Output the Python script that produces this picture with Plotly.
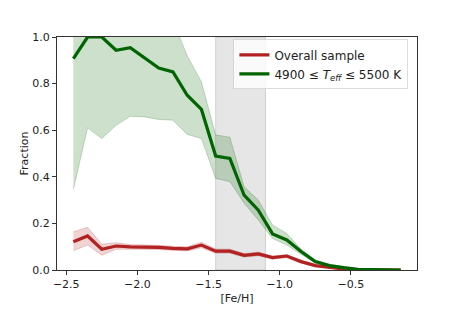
import plotly.graph_objects as go

feh = [-2.45, -2.35, -2.25, -2.15, -2.05, -1.95, -1.85, -1.75, -1.65, -1.55, -1.45, -1.35,
       -1.25, -1.15, -1.05, -0.95, -0.85, -0.75, -0.65, -0.55, -0.45, -0.35, -0.25, -0.15]

overall = [0.121, 0.146, 0.089, 0.103, 0.099, 0.099, 0.097, 0.093, 0.091, 0.107, 0.081, 0.081,
           0.063, 0.069, 0.053, 0.060, 0.036, 0.019, 0.010, 0.004, 0.002, 0.001, 0.000, 0.000]
overall_lo = [0.083, 0.107, 0.063, 0.089, 0.089, 0.090, 0.088, 0.084, 0.082, 0.095, 0.072, 0.072,
              0.055, 0.061, 0.046, 0.053, 0.031, 0.015, 0.007, 0.002, 0.001, 0.000, 0.000, 0.000]
overall_hi = [0.164, 0.183, 0.111, 0.117, 0.109, 0.108, 0.106, 0.102, 0.100, 0.119, 0.090, 0.090,
              0.071, 0.077, 0.060, 0.067, 0.041, 0.023, 0.013, 0.006, 0.003, 0.002, 0.001, 0.000]

teff = [0.907, 1.000, 1.000, 0.943, 0.954, 0.910, 0.867, 0.850, 0.750, 0.689, 0.489, 0.479,
        0.321, 0.257, 0.155, 0.129, 0.079, 0.036, 0.019, 0.010, 0.003, 0.002, 0.001, 0.000]
teff_lo = [0.346, 0.610, 0.564, 0.621, 0.660, 0.657, 0.646, 0.643, 0.582, 0.564, 0.393, 0.379,
           0.287, 0.214, 0.135, 0.107, 0.068, 0.029, 0.014, 0.007, 0.002, 0.001, 0.000, 0.000]
teff_hi = [1.200, 1.200, 1.200, 1.200, 1.200, 1.180, 1.130, 1.070, 0.920, 0.807, 0.580, 0.570,
           0.357, 0.300, 0.193, 0.157, 0.090, 0.043, 0.024, 0.013, 0.005, 0.003, 0.002, 0.000]

span = [-1.45, -1.1]

RED = "#b22222"
GREEN = "#006400"

fig = go.Figure()

fig.add_shape(type="rect", xref="x", yref="paper", x0=span[0], x1=span[1], y0=0, y1=1,
              fillcolor="rgba(128,128,128,0.2)", line=dict(color="rgba(128,128,128,0.3)", width=1),
              layer="below")

# bands
fig.add_trace(go.Scatter(x=feh, y=teff_lo, mode="lines", line=dict(width=1, color="rgba(0,100,0,0.2)"),
                         showlegend=False, hoverinfo="skip"))
fig.add_trace(go.Scatter(x=feh, y=teff_hi, mode="lines", line=dict(width=1, color="rgba(0,100,0,0.2)"),
                         fill="tonexty", fillcolor="rgba(0,100,0,0.2)", showlegend=False, hoverinfo="skip"))
fig.add_trace(go.Scatter(x=feh, y=overall_lo, mode="lines", line=dict(width=1, color="rgba(178,34,34,0.2)"),
                         showlegend=False, hoverinfo="skip"))
fig.add_trace(go.Scatter(x=feh, y=overall_hi, mode="lines", line=dict(width=1, color="rgba(178,34,34,0.2)"),
                         fill="tonexty", fillcolor="rgba(178,34,34,0.2)", showlegend=False, hoverinfo="skip"))

fig.add_trace(go.Scatter(x=feh, y=overall, mode="lines", name="Overall sample",
                         line=dict(color=RED, width=3.2)))
fig.add_trace(go.Scatter(x=feh, y=teff, mode="lines",
                         name="4900 ≤ <i>T</i><sub><i>eff</i></sub> ≤ 5500 K",
                         line=dict(color=GREEN, width=3.2)))

axis_common = dict(showline=True, linecolor="#333333", linewidth=1, mirror=True, showgrid=False,
                   zeroline=False, ticks="outside", ticklen=4, tickcolor="#333333", automargin=False,
                   tickfont=dict(family="DejaVu Sans", size=11, color="#222222"))

# page body has an 8px margin: shrink the figure so the plot area lands where the reference has it
fig.update_layout(
    width=455, height=301,
    margin=dict(l=49, r=46, t=29, b=39),
    paper_bgcolor="white", plot_bgcolor="white",
    font=dict(family="DejaVu Sans", size=11, color="#222222"),
    xaxis=dict(range=[-2.565, -0.035], tickvals=[-2.5, -2.0, -1.5, -1.0, -0.5],
               ticktext=["−2.5", "−2.0", "−1.5", "−1.0", "−0.5"],
               title=dict(text="[Fe/H]", font=dict(size=11), standoff=4), **axis_common),
    yaxis=dict(range=[0, 1], tickvals=[0, 0.2, 0.4, 0.6, 0.8, 1.0], tickformat=".1f",
               title=dict(text="Fraction", font=dict(size=11), standoff=1), **axis_common),
    legend=dict(x=0.49, y=0.99, xanchor="left", yanchor="top", traceorder="normal",
                bgcolor="rgba(255,255,255,0.8)", bordercolor="rgba(210,210,210,0.8)", borderwidth=1,
                font=dict(family="DejaVu Sans", size=12, color="#222222"), itemwidth=30,
                tracegroupgap=0),
)

fig.write_html("out.html")
